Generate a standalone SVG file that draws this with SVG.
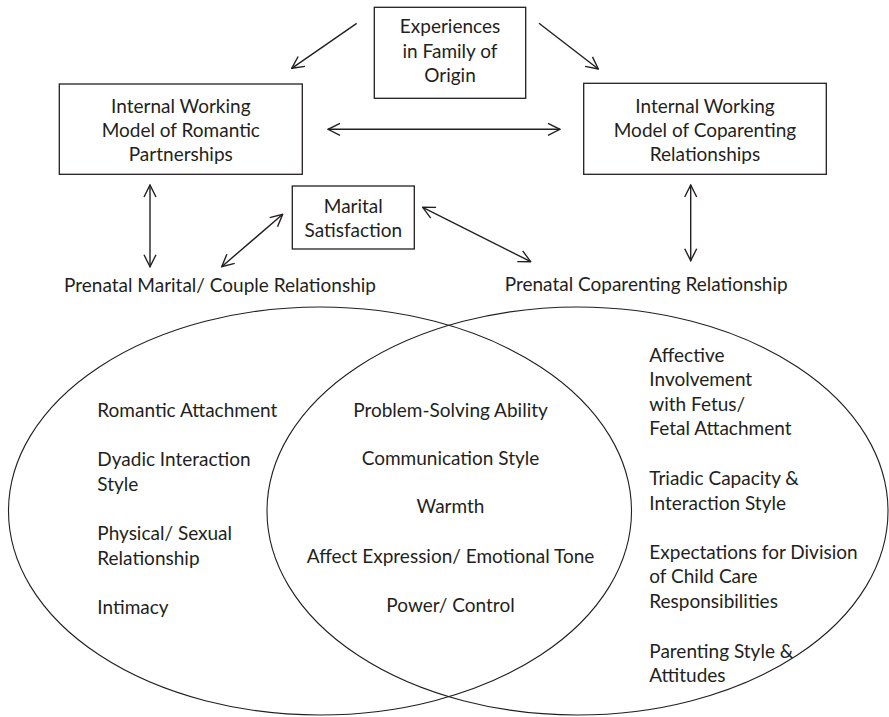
<svg xmlns="http://www.w3.org/2000/svg" width="889" height="717" viewBox="0 0 889 717">
  <style>
    text { font-family: Lato, "Liberation Sans", sans-serif; font-size: 19px; fill: #231f20; }
    .c { text-anchor: middle; }
    .box { fill: #ffffff; stroke: #231f20; stroke-width: 1.3; }
    .ring { fill: none; stroke: #231f20; stroke-width: 1.1; }
    .link { fill: none; stroke: #231f20; stroke-width: 1.4; }
  </style>
  <defs>
    <marker id="head" viewBox="0 0 14 14" refX="13" refY="7" markerWidth="14" markerHeight="14" markerUnits="userSpaceOnUse" orient="auto-start-reverse">
      <path d="M1,1 L13,7 L1,13" fill="none" stroke="#231f20" stroke-width="1.4"/>
    </marker>
  </defs>
  <rect width="889" height="717" fill="#ffffff"/>

  <!-- overlapping domains -->
  <g id="domains">
    <ellipse class="ring" cx="320" cy="511" rx="311.5" ry="204"/>
    <ellipse class="ring" cx="577.5" cy="511" rx="310.5" ry="204"/>
  </g>

  <g id="connectors">
    <line class="link" x1="356.7" y1="23.3" x2="291.7" y2="68.3" marker-end="url(#head)"/>
    <line class="link" x1="539" y1="23.3" x2="598.3" y2="69" marker-end="url(#head)"/>
    <line class="link" x1="328" y1="129.3" x2="560" y2="129.3" marker-start="url(#head)" marker-end="url(#head)"/>
    <line class="link" x1="150" y1="185" x2="150" y2="266.7" marker-start="url(#head)" marker-end="url(#head)"/>
    <line class="link" x1="221.7" y1="266.7" x2="282.7" y2="214.3" marker-start="url(#head)" marker-end="url(#head)"/>
    <line class="link" x1="422.7" y1="207.3" x2="530.7" y2="261.7" marker-start="url(#head)" marker-end="url(#head)"/>
    <line class="link" x1="690.7" y1="185" x2="690.7" y2="260.7" marker-start="url(#head)" marker-end="url(#head)"/>
  </g>

  <g id="family-of-origin">
    <rect class="box" x="374.3" y="7.3" width="151.4" height="91"/>
    <text class="c" x="450" y="33">Experiences</text>
    <text class="c" x="450" y="57.5">in Family of</text>
    <text class="c" x="450" y="82">Origin</text>
  </g>

  <g id="iwm-romantic">
    <rect class="box" x="59.3" y="84" width="243" height="90.3"/>
    <text class="c" x="180.8" y="112.7">Internal Working</text>
    <text class="c" x="180.8" y="136.7">Model of Romantic</text>
    <text class="c" x="180.8" y="160.7">Partnerships</text>
  </g>

  <g id="iwm-coparenting">
    <rect class="box" x="583.7" y="83.3" width="242.6" height="91"/>
    <text class="c" x="705" y="112.7">Internal Working</text>
    <text class="c" x="705" y="136.7">Model of Coparenting</text>
    <text class="c" x="705" y="160.7">Relationships</text>
  </g>

  <g id="marital-satisfaction">
    <rect class="box" x="292.3" y="186" width="122" height="63"/>
    <text class="c" x="353.3" y="213.3">Marital</text>
    <text class="c" x="353.3" y="236.7">Satisfaction</text>
  </g>

  <g id="prenatal-marital">
    <text class="c" x="220" y="292.3">Prenatal Marital/ Couple Relationship</text>
  </g>

  <g id="prenatal-coparenting">
    <text class="c" x="646.2" y="291">Prenatal Coparenting Relationship</text>
  </g>

  <g id="couple-only">
    <text x="97.3" y="416.7">Romantic Attachment</text>
    <text x="97.3" y="466">Dyadic Interaction</text>
    <text x="97.3" y="490.5">Style</text>
    <text x="97.3" y="540">Physical/ Sexual</text>
    <text x="97.3" y="564.5">Relationship</text>
    <text x="97.3" y="613.5">Intimacy</text>
  </g>

  <g id="shared">
    <text class="c" x="450.5" y="416.7">Problem-Solving Ability</text>
    <text class="c" x="450.5" y="465">Communication Style</text>
    <text class="c" x="450.5" y="513.3">Warmth</text>
    <text class="c" x="450.5" y="562.5">Affect Expression/ Emotional Tone</text>
    <text class="c" x="450.5" y="611.7">Power/ Control</text>
  </g>

  <g id="coparenting-only">
    <text x="649.3" y="361.5">Affective</text>
    <text x="649.3" y="386">Involvement</text>
    <text x="649.3" y="410.5">with Fetus/</text>
    <text x="649.3" y="435">Fetal Attachment</text>
    <text x="649.3" y="485">Triadic Capacity &amp;</text>
    <text x="649.3" y="509.5">Interaction Style</text>
    <text x="649.3" y="558.5">Expectations for Division</text>
    <text x="649.3" y="583">of Child Care</text>
    <text x="649.3" y="607.5">Responsibilities</text>
    <text x="649.3" y="657.5">Parenting Style &amp;</text>
    <text x="649.3" y="682">Attitudes</text>
  </g>
</svg>
